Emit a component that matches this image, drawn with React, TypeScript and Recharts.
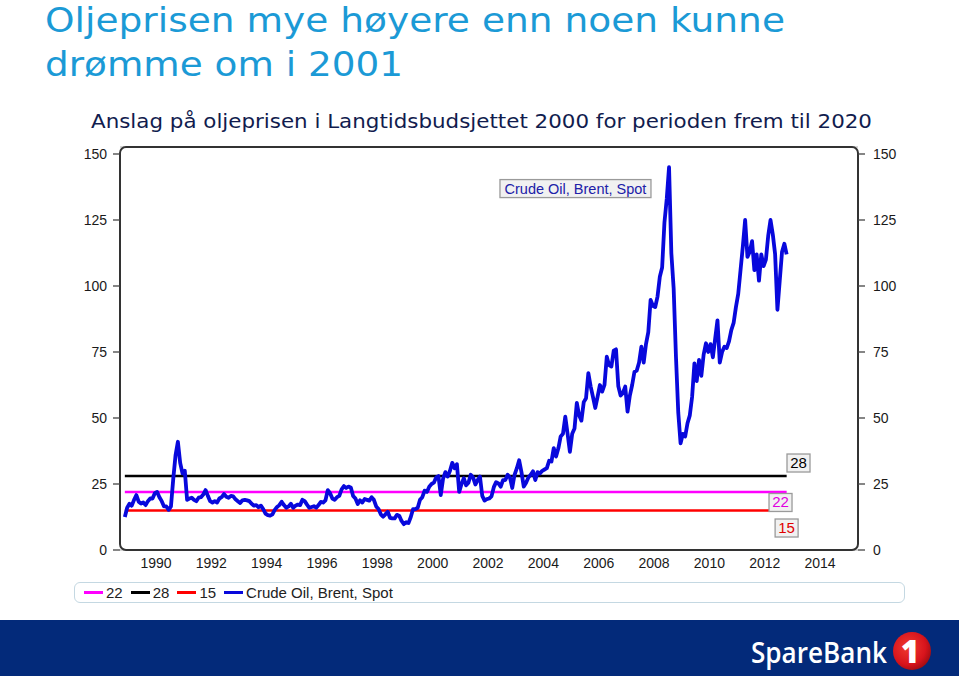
import React from "react";
import {
  LineChart,
  Line,
  XAxis,
  YAxis,
  CartesianGrid,
  ReferenceArea,
  ReferenceDot,
} from "recharts";

// Brent spot, monthly (first value is Nov 1988)
const START_YEAR = 1988;
const START_MONTH = 10;

const BRENT_1988_1995 = [
  12.5, 16.0,
  17.5, 16.8, 19.0, 20.8, 18.3, 17.6, 18.0, 17.0, 18.5, 19.5, 19.5, 21.5,
  22.0, 20.0, 18.5, 16.5, 16.5, 15.2, 16.5, 27.0, 36.0, 41.0, 33.0, 29.0,
  30.0, 19.0, 19.5, 19.8, 19.0, 18.5, 19.8, 20.0, 21.0, 22.7, 20.5, 18.5,
  18.0, 18.5, 18.0, 19.5, 20.0, 21.2, 20.2, 19.8, 20.5, 20.3, 19.2, 18.5,
  17.8, 18.8, 19.0, 18.8, 18.5, 17.5, 16.8, 17.0, 16.2, 16.8, 15.5, 13.8,
  13.2, 13.0, 13.5, 15.2, 16.3, 17.0, 18.3, 17.0, 16.0, 16.5, 17.5, 16.0,
  16.8, 17.2, 17.0, 19.0, 18.5, 17.2, 16.0, 16.3, 16.6, 16.0, 17.0, 18.2,
];

const BRENT_1996_2003 = [
  18.0, 18.8, 22.7, 21.5, 19.5, 19.0, 20.0, 20.5, 23.0, 24.2, 23.5, 24.0,
  23.7, 20.5, 19.5, 17.4, 18.8, 18.0, 19.3, 19.0, 18.7, 20.0, 19.0, 16.5,
  15.5, 13.5, 12.6, 13.5, 14.5, 12.2, 12.0, 12.0, 13.3, 13.0, 11.0, 9.8,
  10.5, 10.2, 12.5, 15.5, 15.5, 16.0, 19.0, 20.0, 22.5, 22.0, 24.0, 25.0,
  25.5, 27.5, 28.0, 20.8, 27.0, 29.5, 27.8, 30.0, 33.0, 31.0, 32.5, 22.0,
  25.0, 27.2, 24.5, 25.5, 28.5, 27.5, 24.8, 26.5, 27.8, 20.5, 18.7, 19.3,
  19.5, 20.3, 23.8, 25.7, 25.2, 24.0, 26.5, 26.5, 28.5, 27.5, 23.5, 28.5,
  31.0, 34.0, 29.5, 24.0, 25.5, 27.5, 28.5, 29.8, 26.5, 29.5, 29.0, 30.0,
];

const BRENT_2004_2012 = [
  30.5, 31.0, 33.8, 33.5, 38.6, 35.4, 38.5, 43.0, 44.0, 50.5, 44.0, 37.2,
  44.0, 46.0, 55.7, 51.0, 49.0, 56.0, 57.5, 67.0, 62.0, 58.0, 53.8, 58.0,
  62.5, 60.0, 62.5, 73.2, 70.0, 69.5, 75.5, 76.0, 62.0, 58.5, 59.5, 61.9,
  52.4, 58.5, 62.5, 67.5, 68.0, 71.0, 77.0, 71.0, 78.0, 82.5, 94.7, 92.5,
  92.0, 96.0, 103.5, 107.0, 124.0, 133.0, 145.0, 112.4, 99.0, 73.2, 52.0, 40.4,
  44.0, 43.0, 48.0, 51.0, 58.0, 70.7, 64.0, 72.0, 66.0, 74.0, 78.3, 75.0,
  78.0, 73.0, 80.0, 87.0, 71.0, 75.0, 77.0, 76.5, 79.0, 83.3, 86.0, 92.0,
  97.0, 106.0, 115.0, 125.0, 111.0, 113.0, 117.0, 106.0, 112.0, 102.0, 112.0, 107.5,
  110.0, 119.0, 125.0, 119.5, 112.0, 91.0, 102.0, 113.0, 116.0, 112.0,
];

// Langtidsbudsjettet 2000 price assumptions
const LEVEL_KEYS = ["f22", "f28", "f15"];
const LEVEL_VALUES = [22, 28, 15];
const LEVEL_COLORS = ["#ff00ff", "#000000", "#ff0000"];
const SERIES_NAME = "Crude Oil, Brent, Spot";
const BRENT_COLOR = "#0808dc";

const Y_TICKS = [0, 25, 50, 75, 100, 125, 150];
const X_TICKS = [1990, 1992, 1994, 1996, 1998, 2000, 2002, 2004, 2006, 2008, 2010, 2012, 2014];

const X_DOMAIN: [number, number] = [1988.7, 2015.37];
const Y_DOMAIN: [number, number] = [0, 152.65];

const brent = [...BRENT_1988_1995, ...BRENT_1996_2003, ...BRENT_2004_2012];
const data = brent.map((v, i) => ({
  t: START_YEAR + (START_MONTH + i + 0.5) / 12,
  brent: v,
  f22: LEVEL_VALUES[0],
  f28: LEVEL_VALUES[1],
  f15: LEVEL_VALUES[2],
}));

const AXIS_FONT = "'Liberation Sans', Arial, sans-serif";
const TITLE_FONT = "'DejaVu Sans', Verdana, sans-serif";
const tickStyle = { fontSize: 14, fill: "#1a1a1a", fontFamily: AXIS_FONT };

const Tag = ({ cx, cy, text, color, w, size = 15 }: any) => (
  <g>
    <rect x={cx - w / 2} y={cy - 9} width={w} height={18} fill="#f1f1f1" stroke="#9a9a9a" strokeWidth={1.3} />
    <text x={cx} y={cy + 5} textAnchor="middle" fontSize={size} fill={color} fontFamily={AXIS_FONT}>
      {text}
    </text>
  </g>
);

const Frame = (p: any) => (
  <rect x={p.x} y={p.y} width={p.width} height={p.height} rx={6} fill="none" stroke="#333" strokeWidth={2} />
);

const legendItems = [
  { label: "22", color: LEVEL_COLORS[0] },
  { label: "28", color: LEVEL_COLORS[1] },
  { label: "15", color: LEVEL_COLORS[2] },
  { label: SERIES_NAME, color: BRENT_COLOR },
];

export default function App() {
  return (
    <div style={{ position: "absolute", left: 0, top: 0, width: 959, height: 676, background: "#fff", overflow: "hidden" }}>
      <svg width={959} height={140} style={{ position: "absolute", left: 0, top: 0 }}>
        <text x={45} y={32} fontSize={33} fill="#1b9ad6" fontFamily={TITLE_FONT} textLength={740} lengthAdjust="spacingAndGlyphs">
          Oljeprisen mye høyere enn noen kunne
        </text>
        <text x={45} y={76} fontSize={33} fill="#1b9ad6" fontFamily={TITLE_FONT} textLength={358} lengthAdjust="spacingAndGlyphs">
          drømme om i 2001
        </text>
        <text x={91} y={128} fontSize={20} fill="#111c4e" fontFamily={TITLE_FONT} textLength={781} lengthAdjust="spacingAndGlyphs">
          Anslag på oljeprisen i Langtidsbudsjettet 2000 for perioden frem til 2020
        </text>
      </svg>

      <div style={{ position: "absolute", left: 0, top: 0 }}>
        <LineChart width={959} height={676} data={data} margin={{ top: 147, right: 41, bottom: 96, left: 60 }}>
          <CartesianGrid horizontal vertical={false} stroke="#c8c8c8" strokeWidth={1.5} />
          <XAxis
            dataKey="t"
            type="number"
            domain={X_DOMAIN}
            ticks={X_TICKS}
            allowDataOverflow
            axisLine={false}
            tickLine={false}
            height={30}
            tick={tickStyle}
          />
          <YAxis
            yAxisId="left"
            orientation="left"
            domain={Y_DOMAIN}
            ticks={Y_TICKS}
            allowDataOverflow
            width={60}
            axisLine={false}
            tickLine={{ stroke: "#444", strokeWidth: 1.3 }}
            tickSize={7}
            tickMargin={6}
            tick={tickStyle}
          />
          <YAxis
            yAxisId="right"
            orientation="right"
            domain={Y_DOMAIN}
            ticks={Y_TICKS}
            allowDataOverflow
            width={60}
            axisLine={false}
            tickLine={{ stroke: "#444", strokeWidth: 1.3 }}
            tickSize={7}
            tickMargin={8}
            tick={tickStyle}
          />
          {LEVEL_KEYS.map((k, i) => (
            <Line
              key={k}
              yAxisId="left"
              type="linear"
              dataKey={k}
              stroke={LEVEL_COLORS[i]}
              strokeWidth={2.5}
              dot={false}
              isAnimationActive={false}
            />
          ))}
          <Line
            yAxisId="left"
            type="linear"
            dataKey="brent"
            name={SERIES_NAME}
            stroke={BRENT_COLOR}
            strokeWidth={3.8}
            strokeLinejoin="round"
            dot={false}
            isAnimationActive={false}
          />
          <ReferenceArea
            yAxisId="left"
            x1={X_DOMAIN[0]}
            x2={X_DOMAIN[1]}
            y1={Y_DOMAIN[0]}
            y2={Y_DOMAIN[1]}
            ifOverflow="visible"
            shape={Frame}
          />
          <ReferenceDot yAxisId="left" x={2013.22} y={32.95} ifOverflow="visible"
            shape={(p: any) => <Tag {...p} text="28" color="#000" w={23} />} />
          <ReferenceDot yAxisId="left" x={2012.57} y={18.0} ifOverflow="visible"
            shape={(p: any) => <Tag {...p} text="22" color="#e000e0" w={23} />} />
          <ReferenceDot yAxisId="left" x={2012.79} y={8.33} ifOverflow="visible"
            shape={(p: any) => <Tag {...p} text="15" color="#e00000" w={23} />} />
          <ReferenceDot yAxisId="left" x={2005.16} y={136.9} ifOverflow="visible"
            shape={(p: any) => <Tag {...p} text={SERIES_NAME} color="#2020a8" w={151} size={14.5} />} />
        </LineChart>
      </div>

      <div
        style={{
          position: "absolute",
          left: 74,
          top: 582,
          width: 831,
          height: 21,
          boxSizing: "border-box",
          border: "1.5px solid #c4d8e2",
          borderRadius: 6,
          display: "flex",
          alignItems: "center",
          paddingLeft: 9,
          fontFamily: AXIS_FONT,
          fontSize: 15,
          color: "#222",
        }}
      >
        {legendItems.map((it) => (
          <span key={it.label} style={{ display: "flex", alignItems: "center", marginRight: 8 }}>
            <span style={{ display: "inline-block", width: 19, height: 2.5, background: it.color, marginRight: 3 }} />
            {it.label}
          </span>
        ))}
      </div>

      <div style={{ position: "absolute", left: 0, top: 620, width: 959, height: 56, background: "#032a7a" }}>
        <svg width={959} height={56}>
          <defs>
            <radialGradient id="one" cx="40%" cy="40%" r="65%">
              <stop offset="0%" stopColor="#f03a30" />
              <stop offset="70%" stopColor="#d8141c" />
              <stop offset="100%" stopColor="#a00c12" />
            </radialGradient>
          </defs>
          <text x={751} y={43} fontSize={29} fill="#fff" fontFamily="'Open Sans', sans-serif" fontWeight={600} textLength={136} lengthAdjust="spacingAndGlyphs">
            SpareBank
          </text>
          <circle cx={912} cy={31} r={19} fill="url(#one)" />
          <text x={910} y={43} textAnchor="middle" fontSize={32} fontWeight={800} fill="#fff" fontFamily="'Open Sans', sans-serif">
            1
          </text>
        </svg>
      </div>
    </div>
  );
}
